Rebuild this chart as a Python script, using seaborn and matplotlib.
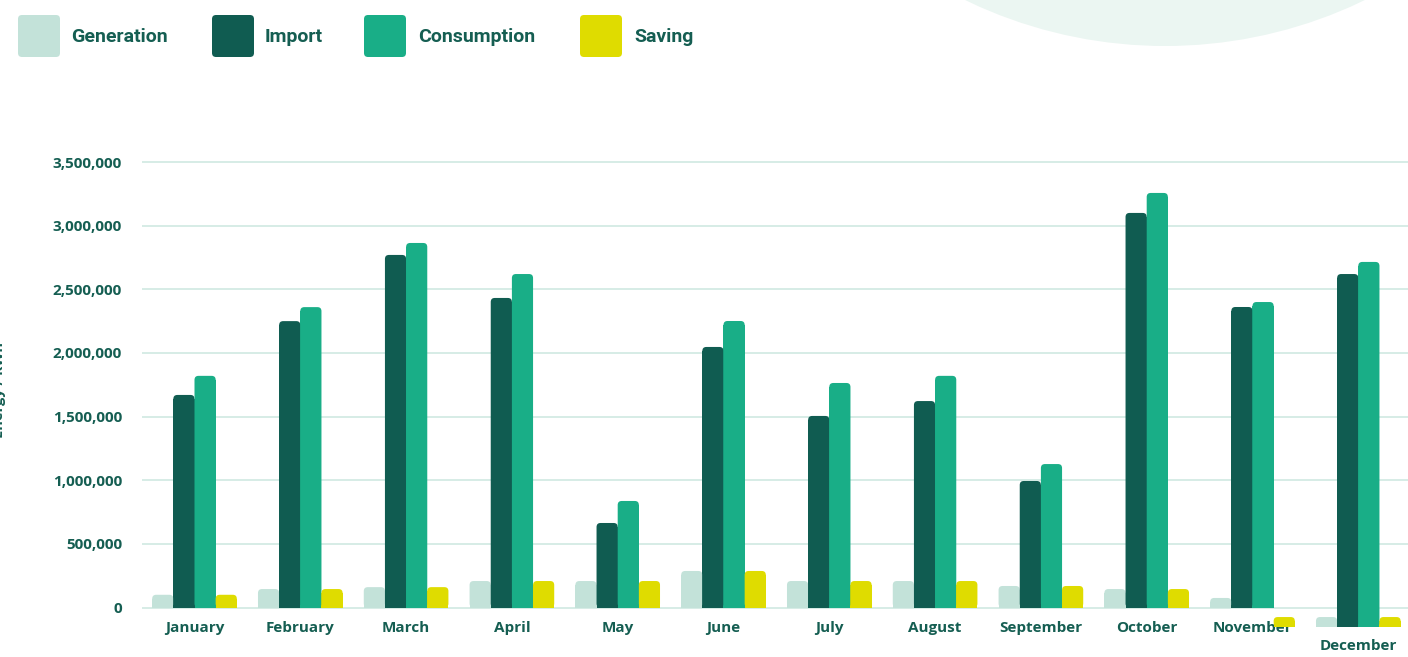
import numpy as np
import pandas as pd
import seaborn as sns
import matplotlib.pyplot as plt
import matplotlib.transforms as mtransforms
from matplotlib.patches import FancyBboxPatch, Ellipse
from matplotlib.ticker import FuncFormatter, MultipleLocator

months = ["January", "February", "March", "April", "May", "June", "July",
          "August", "September", "October", "November", "December"]
series = ["Generation", "Import", "Consumption", "Saving"]
colors = ["#c3e2d9", "#105c51", "#19ae87", "#dfdc00"]

# top of each bar (kWh)
generation = [100000, 145000, 160000, 208000, 208000, 287000, 208000, 208000, 169000, 145000, 75000, -75000]
imports = [1670000, 2250000, 2770000, 2432000, 664000, 2047000, 1505000, 1622000, 994000, 3100000, 2361000, 2620000]
consumption = [1820000, 2360000, 2864000, 2620000, 837000, 2251000, 1764000, 1820000, 1127000, 3257000, 2400000, 2715000]
saving = [100000, 145000, 160000, 208000, 208000, 287000, 208000, 208000, 169000, 145000, -75000, -75000]

# bottom of each bar (some hang below the axis at the end of the year)
generation_base = [0, 0, 0, 0, 0, 0, 0, 0, 0, 0, 0, -150000]
imports_base = [0, 0, 0, 0, 0, 0, 0, 0, 0, 0, 0, -150000]
consumption_base = [0, 0, 0, 0, 0, 0, 0, 0, 0, 0, 0, -150000]
saving_base = [0, 0, 0, 0, 0, 0, 0, 0, 0, 0, -150000, -150000]

tops = [generation, imports, consumption, saving]
bases = [generation_base, imports_base, consumption_base, saving_base]

df = pd.DataFrame({
    "month": months * 4,
    "series": [s for s in series for _ in months],
    "value": generation + imports + consumption + saving,
})

text_col = "#155e52"
grid_col = "#d3ebe4"

sns.set_theme(style="white")
plt.rcParams["font.family"] = ["Open Sans", "DejaVu Sans"]

W, H = 1408, 657
fig = plt.figure(figsize=(W / 100, H / 100), dpi=100)

# pixel geometry of the plot area
cat_px = 105.8
px_per_unit = 63.64 / 500000
y_top_lim, y_bot_lim = 3520000, -20000
ax_top_px = 607.5 - y_top_lim * px_per_unit
ax_bot_px = 607.5 - y_bot_lim * px_per_unit
left_px = 141.6
ax = fig.add_axes([left_px / W, (H - ax_bot_px) / H, 12 * cat_px / W, (ax_bot_px - ax_top_px) / H])
ax.set_facecolor("none")

sns.barplot(data=df, x="month", y="value", hue="series", hue_order=series,
            palette=colors, width=0.8, gap=0, errorbar=None, legend=False,
            linewidth=0, saturation=1, ax=ax, zorder=3)

ax.set_xlim(-0.5, 11.5)
ax.set_ylim(y_bot_lim, y_top_lim)

ux = 1 / cat_px
uy = 1 / px_per_unit
r_px = 4
for cont, col, tvals, bvals in zip(ax.containers, colors, tops, bases):
    for bar, top, base in zip(cont.patches, tvals, bvals):
        x0, w = bar.get_x(), bar.get_width()
        bar.set_y(base)
        bar.set_height(top - base - r_px * uy)
        bar.set_clip_on(False)
        rp = FancyBboxPatch((x0, base), w, top - base,
                            boxstyle=f"round,pad=0,rounding_size={r_px * ux}",
                            mutation_aspect=uy / ux, fc=col, ec="none",
                            clip_on=False, zorder=3)
        ax.add_patch(rp)

ax.yaxis.set_major_locator(MultipleLocator(500000))
ax.yaxis.set_major_formatter(FuncFormatter(lambda v, p: f"{int(v):,}"))
ax.grid(axis="y", color=grid_col, linewidth=1.3, zorder=0)
ax.grid(axis="x", visible=False)
sns.despine(ax=ax, left=True, bottom=True)
ax.tick_params(axis="both", length=0, colors=text_col, labelsize=11)
ax.tick_params(axis="y", pad=14)
ax.tick_params(axis="x", pad=8)
for lab in ax.get_xticklabels() + ax.get_yticklabels():
    lab.set_fontweight("bold")
ax.set_xlabel("")
ax.set_ylabel("")

# December label sits lower
dec = ax.get_xticklabels()[-1]
dec.set_transform(dec.get_transform() + mtransforms.ScaledTranslation(0, -18 / 100, fig.dpi_scale_trans))

fig.text(-1 / W, (H - 390) / H, "Energy / kWh", rotation=90, ha="center", va="center",
         color=text_col, fontsize=10.5, fontweight="bold")

# background blob top right
fig.add_artist(Ellipse((1165 / W, (H + 412) / H), 916 / W, 916 / H,
                       transform=fig.transFigure, fc="#ebf6f2", ec="none", zorder=0))

# legend
leg_x = [18, 212, 364, 580]
txt_x = [71, 265, 418, 634]
for s, c, lx, tx in zip(series, colors, leg_x, txt_x):
    fig.add_artist(FancyBboxPatch((lx, H - 57), 42, 42, boxstyle="round,pad=0,rounding_size=4",
                                  transform=None, fc=c, ec="none"))
    fig.text(tx / W, (H - 37) / H, s, ha="left", va="center", color=text_col,
             fontsize=14, fontweight="bold", family=["Roboto", "DejaVu Sans"])

fig.savefig("out.png", dpi=100)
